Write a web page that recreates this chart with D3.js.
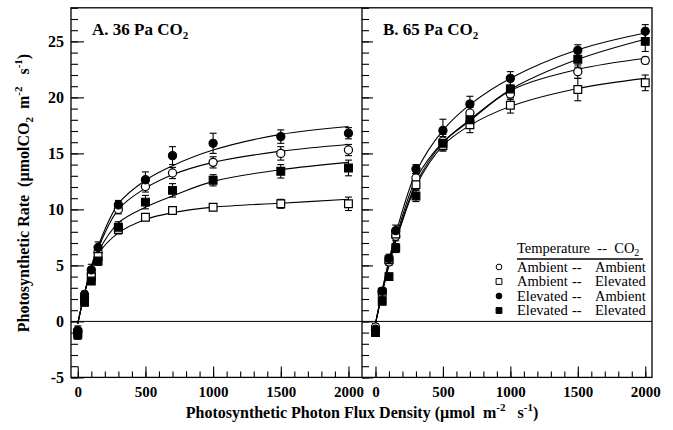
<!DOCTYPE html>
<html>
<head>
<meta charset="utf-8">
<script src="https://cdn.jsdelivr.net/npm/d3@7"></script>
<style>
  body { margin: 0; background: #fff; }
  text { font-family: 'Liberation Serif', 'Times New Roman', serif; fill: #000; white-space: pre; }
</style>
</head>
<body>
<svg id="chart" width="673" height="430"></svg>
<script>
// light levels (PPFD) where gas exchange was measured
const light = [0, 50, 100, 150, 300, 500, 700, 1000, 1500, 2000]

// series order: Ambient-Ambient, Ambient-Elevated, Elevated-Ambient, Elevated-Elevated (Temperature -- CO2)
const legendLabels = [['Ambient', 'Ambient'], ['Ambient', 'Elevated'], ['Elevated', 'Ambient'], ['Elevated', 'Elevated']]
const markerShape = ['circle', 'square', 'circle', 'square']
const markerFilled = [false, false, true, true]

// panel A, 36 Pa CO2
const meanA = [
  [-0.9, 2.1, 4.2, 6.2, 10.0, 12.05, 13.25, 14.2, 15.0, 15.3],
  [-1.0, 1.9, 4.0, 5.8, 8.2, 9.3, 9.9, 10.2, 10.5, 10.5],
  [-0.8, 2.4, 4.6, 6.6, 10.4, 12.65, 14.8, 15.9, 16.5, 16.8],
  [-1.2, 1.7, 3.6, 5.4, 8.4, 10.65, 11.7, 12.6, 13.4, 13.7]
]
const errA = [
  [0.3, 0.3, 0.3, 0.4, 0.4, 0.5, 0.5, 0.5, 0.6, 0.5],
  [0.3, 0.2, 0.3, 0.3, 0.4, 0.3, 0.3, 0.3, 0.4, 0.6],
  [0.4, 0.3, 0.5, 0.5, 0.4, 0.7, 0.8, 0.9, 0.6, 0.5],
  [0.4, 0.3, 0.3, 0.4, 0.5, 0.6, 0.6, 0.5, 0.6, 0.7]
]
const fitA = [
  [-0.2, 2.5, 4.8, 6.5, 10.0, 11.9, 13.1, 14.2, 15.2, 15.8],
  [-0.2, 2.5, 4.6, 6.0, 7.9, 9.1, 9.7, 10.2, 10.55, 10.9],
  [-0.2, 2.5, 4.9, 6.7, 10.5, 12.6, 13.9, 15.3, 16.7, 17.4],
  [-0.2, 2.5, 4.7, 6.2, 8.8, 10.2, 11.2, 12.5, 13.55, 14.2]
]

// panel B, 65 Pa CO2
const meanB = [
  [-0.5, 2.6, 5.3, 7.6, 12.8, 16.1, 18.6, 20.3, 22.3, 23.3],
  [-0.8, 2.6, 5.5, 7.8, 12.2, 15.7, 17.55, 19.3, 20.7, 21.3],
  [-0.7, 2.7, 5.6, 8.1, 13.6, 17.05, 19.4, 21.7, 24.2, 25.9],
  [-1.0, 1.8, 4.0, 6.55, 11.2, 15.9, 18.0, 20.75, 23.4, 25.0]
]
const errB = [
  [0.3, 0.3, 0.3, 0.4, 0.4, 0.6, 0.5, 0.5, 0.6, 0.3],
  [0.3, 0.3, 0.3, 0.4, 0.4, 0.5, 0.7, 0.7, 1.0, 0.7],
  [0.3, 0.3, 0.4, 0.5, 0.4, 1.0, 0.7, 0.6, 0.5, 0.6],
  [0.3, 0.3, 0.3, 0.4, 0.5, 0.6, 0.6, 0.8, 0.7, 0.9]
]
const fitB = [
  [-0.2, 2.7, 5.3, 7.4, 12.7, 16.0, 17.9, 20.6, 22.5, 23.5],
  [-0.2, 2.6, 5.1, 7.1, 12.1, 15.7, 17.5, 19.2, 20.8, 21.7],
  [-0.2, 2.8, 5.5, 7.8, 13.3, 17.05, 19.35, 21.7, 24.25, 25.75],
  [-0.2, 2.5, 5.0, 7.2, 12.3, 15.95, 18.0, 20.7, 23.4, 25.2]
]

const yMajor = [-5, 0, 5, 10, 15, 20, 25]
const xMajor = [0, 500, 1000, 1500, 2000]

const svg = d3.select('#chart')
const frameL = 71, frameM = 362, frameR = 652, frameT = 7.8, frameB = 377.4

const y = d3.scaleLinear().domain([-5, 28]).range([frameB, frameT])
const panels = [
  {title: 'A. 36 Pa CO', tx: 92, x: d3.scaleLinear().domain([-50, 2100]).range([frameL, frameM]),
    x0: frameL, yTick: 13, mean: meanA, err: errA, fit: fitA},
  {title: 'B. 65 Pa CO', tx: 383, x: d3.scaleLinear().domain([-100, 2050]).range([frameM, frameR]),
    x0: frameM, yTick: 11, mean: meanB, err: errB, fit: fitB}
]

// zero line across both panels
svg.append('line')
  .attr('x1', frameL).attr('x2', frameR)
  .attr('y1', y(0)).attr('y2', y(0))
  .attr('stroke', '#000').attr('stroke-width', 1)

const clean = (g) => {
  g.select('.domain').remove()
  g.selectAll('.tick line').attr('stroke', '#000').attr('stroke-width', 1.1)
}
const plain = (d) => String(d)

panels.forEach((p) => {
  const g = svg.append('g')

  // y ticks (inward)
  g.append('g').attr('transform', `translate(${p.x0},0)`)
    .call(d3.axisRight(y).tickValues(d3.range(-5, 29)).tickSize(7).tickFormat(''))
    .call(clean)
  g.append('g').attr('transform', `translate(${p.x0},0)`)
    .call(d3.axisRight(y).tickValues(yMajor).tickSize(p.yTick).tickFormat(''))
    .call(clean)

  // x ticks (inward) and labels
  g.append('g').attr('transform', `translate(0,${frameB})`)
    .call(d3.axisTop(p.x).tickValues(d3.range(0, 2001, 100)).tickSize(6).tickFormat(''))
    .call(clean)
  g.append('g').attr('transform', `translate(0,${frameB})`)
    .call(d3.axisTop(p.x).tickValues(xMajor).tickSize(11).tickFormat(''))
    .call(clean)
  g.append('g').attr('transform', `translate(0,${frameB})`)
    .call(d3.axisBottom(p.x).tickValues(xMajor).tickSize(0).tickPadding(9).tickFormat(plain))
    .call((a) => a.select('.domain').remove())
    .selectAll('text')
    .style('font-family', "'Liberation Serif', 'Times New Roman', serif")
    .style('font-size', '15px').style('font-weight', 'bold')

  // panel title
  const t = g.append('text')
    .attr('x', p.tx).attr('y', 35)
    .style('font-size', '17px').style('font-weight', 'bold')
    .text(p.title)
  t.append('tspan').attr('dy', 4).style('font-size', '11px').text('2')

  // fitted curves
  const line = d3.line()
    .x((d) => p.x(d[0]))
    .y((d) => y(d[1]))
    .curve(d3.curveCatmullRom.alpha(0.5))
  p.fit.forEach((f) => {
    g.append('path')
      .datum(light.map((l, i) => [l, f[i]]))
      .attr('d', line)
      .attr('fill', 'none')
      .attr('stroke', '#000')
      .attr('stroke-width', 1.1)
  })

  // error bars then markers
  p.mean.forEach((m, s) => {
    const pts = light.map((l, i) => ({l, v: m[i], e: p.err[s][i]}))
    const eb = g.append('g').attr('stroke', '#000').attr('stroke-width', 1.1)
    eb.selectAll('.stem').data(pts).enter().append('line')
      .attr('x1', (d) => p.x(d.l)).attr('x2', (d) => p.x(d.l))
      .attr('y1', (d) => y(d.v - d.e)).attr('y2', (d) => y(d.v + d.e))
    eb.selectAll('.capt').data(pts).enter().append('line')
      .attr('x1', (d) => p.x(d.l) - 3.5).attr('x2', (d) => p.x(d.l) + 3.5)
      .attr('y1', (d) => y(d.v + d.e)).attr('y2', (d) => y(d.v + d.e))
    eb.selectAll('.capb').data(pts).enter().append('line')
      .attr('x1', (d) => p.x(d.l) - 3.5).attr('x2', (d) => p.x(d.l) + 3.5)
      .attr('y1', (d) => y(d.v - d.e)).attr('y2', (d) => y(d.v - d.e))
  })
  p.mean.forEach((m, s) => {
    const sym = d3.symbol()
      .type(markerShape[s] === 'circle' ? d3.symbolCircle : d3.symbolSquare)
      .size(markerShape[s] === 'circle' ? 52 : 60)
    g.selectAll(null).data(light.map((l, i) => [l, m[i]])).enter().append('path')
      .attr('transform', (d) => `translate(${p.x(d[0])},${y(d[1])})`)
      .attr('d', sym)
      .attr('fill', markerFilled[s] ? '#000' : '#fff')
      .attr('stroke', '#000')
      .attr('stroke-width', 1.2)
  })
})

// y tick labels
svg.append('g').attr('transform', `translate(${frameL},0)`)
  .call(d3.axisLeft(y).tickValues(yMajor).tickSize(0).tickPadding(7).tickFormat(plain))
  .call((a) => a.select('.domain').remove())
  .selectAll('text')
  .style('font-family', "'Liberation Serif', 'Times New Roman', serif")
  .style('font-size', '16px').style('font-weight', 'bold')

// frame
svg.append('rect')
  .attr('x', frameL).attr('y', frameT)
  .attr('width', frameR - frameL).attr('height', frameB - frameT)
  .attr('fill', 'none').attr('stroke', '#000').attr('stroke-width', 1.3)
svg.append('line')
  .attr('x1', frameM).attr('x2', frameM).attr('y1', frameT).attr('y2', frameB)
  .attr('stroke', '#000').attr('stroke-width', 1.3)

// axis titles
const yt = svg.append('text')
  .attr('transform', 'translate(29,193) rotate(-90)')
  .attr('text-anchor', 'middle')
  .style('font-size', '16px').style('font-weight', 'bold')
yt.append('tspan').text('Photosynthetic Rate  (\u00b5molCO')
yt.append('tspan').attr('dy', 4).style('font-size', '11px').text('2')
yt.append('tspan').attr('dy', -4).text('  m')
yt.append('tspan').attr('dy', -7).style('font-size', '11px').text('-2')
yt.append('tspan').attr('dy', 7).text('   s')
yt.append('tspan').attr('dy', -7).style('font-size', '11px').text('-1')
yt.append('tspan').attr('dy', 7).text(')')

const xt = svg.append('text')
  .attr('x', 362).attr('y', 418)
  .attr('text-anchor', 'middle')
  .style('font-size', '16px').style('font-weight', 'bold')
xt.append('tspan').text('Photosynthetic Photon Flux Density (\u00b5mol  m')
xt.append('tspan').attr('dy', -7).style('font-size', '11px').text('-2')
xt.append('tspan').attr('dy', 7).text('   s')
xt.append('tspan').attr('dy', -7).style('font-size', '11px').text('-1')
xt.append('tspan').attr('dy', 7).text(')')

// legend
const lg = svg.append('g').style('font-size', '14.5px')
const hd = lg.append('text').attr('x', 517).attr('y', 253).text('Temperature  --  CO')
hd.append('tspan').attr('dy', 3).style('font-size', '10px').text('2')
lg.append('line')
  .attr('x1', 517).attr('x2', 643).attr('y1', 259).attr('y2', 259)
  .attr('stroke', '#000').attr('stroke-width', 1.6)
legendLabels.forEach((lab, i) => {
  const cy = 267 + i * 14.5
  lg.append('path')
    .attr('transform', `translate(499,${cy})`)
    .attr('d', d3.symbol().type(markerShape[i] === 'circle' ? d3.symbolCircle : d3.symbolSquare)
      .size(markerShape[i] === 'circle' ? 26 : 34))
    .attr('fill', markerFilled[i] ? '#000' : '#fff')
    .attr('stroke', '#000').attr('stroke-width', 1)
  lg.append('text').attr('x', 517).attr('y', cy + 4.5).text(lab[0])
  lg.append('text').attr('x', 572).attr('y', cy + 4.5).text('--')
  lg.append('text').attr('x', 595).attr('y', cy + 4.5).text(lab[1])
})
</script>
</body>
</html>
